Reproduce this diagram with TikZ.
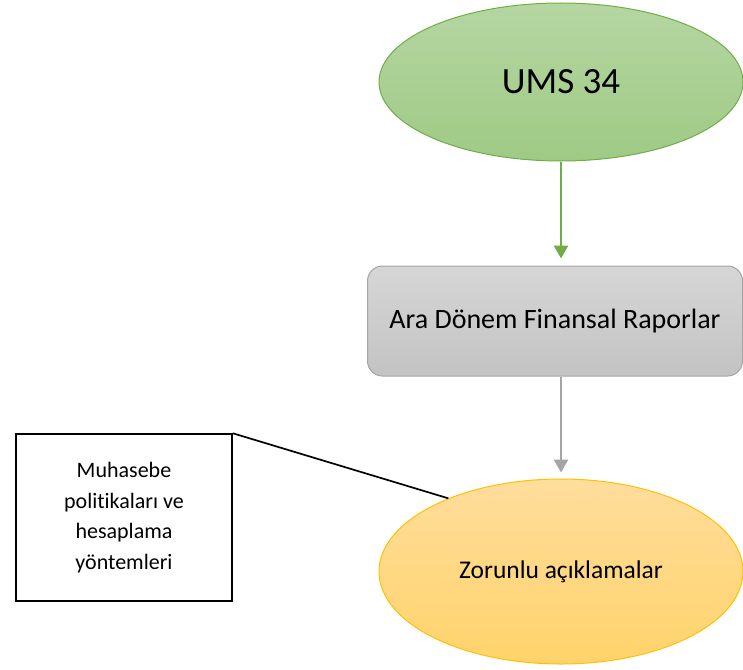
\documentclass[tikz,border=0pt]{standalone}
\usepackage{fontspec}
\setmainfont{Carlito}[Ligatures=NoCommon]
\usetikzlibrary{shapes.geometric,arrows.meta}
\definecolor{gtop}{HTML}{B5D6A2}
\definecolor{gbot}{HTML}{9FCA85}
\definecolor{gline}{HTML}{70AD47}
\definecolor{rtop}{HTML}{D6D6D6}
\definecolor{rbot}{HTML}{C3C3C3}
\definecolor{rline}{HTML}{A5A5A5}
\definecolor{otop}{HTML}{FFDD9C}
\definecolor{obot}{HTML}{FFD36B}
\definecolor{oline}{HTML}{FFC000}
\tikzset{
  greenell/.style={ellipse, draw=gline, line width=1pt, top color=gtop, bottom color=gbot, inner sep=0pt, minimum width=364pt, minimum height=158pt, font=\fontsize{37}{44}\selectfont},
  graybox/.style={rectangle, rounded corners=15pt, draw=rline, line width=1pt, top color=rtop, bottom color=rbot, inner sep=0pt, minimum width=375pt, minimum height=110pt, font=\fontsize{28}{34}\selectfont},
  orangeell/.style={ellipse, draw=oline, line width=1pt, top color=otop, bottom color=obot, inner sep=0pt, minimum width=364pt, minimum height=185pt, font=\fontsize{25.5}{31}\selectfont},
  callout/.style={rectangle, draw=black, line width=1.5pt, fill=white, inner sep=0pt, minimum width=216pt, minimum height=167pt, align=center, font=\fontsize{22}{30.5}\selectfont},
  flowarrow/.style={line width=2.8pt, -{Triangle[width=14pt,length=13pt]}}
}
\begin{document}
\begin{tikzpicture}[x=1pt,y=-1pt]
\useasboundingbox (0,0) rectangle (743,669);
\node[greenell] (ums) at (561,82) {UMS 34};
\node[graybox] (ara) at (555,321) {Ara Dönem Finansal Raporlar};
\node[orangeell] (zor) at (561,571.5) {Zorunlu açıklamalar};
\node[callout] (muh) at (124,517.5) {\rule{0pt}{6pt}Muhasebe\\ politikaları ve\\ hesaplama\\ yöntemleri};
\draw[flowarrow, gline, shorten >=7pt] (ums.south) -- (ums.south |- ara.north);
\draw[flowarrow, rline, shorten >=6pt] (ara.south -| ums.south) -- (ums.south |- zor.north);
\draw[line width=1.7pt] (muh.north east) -- (zor.147);
\end{tikzpicture}
\end{document}
